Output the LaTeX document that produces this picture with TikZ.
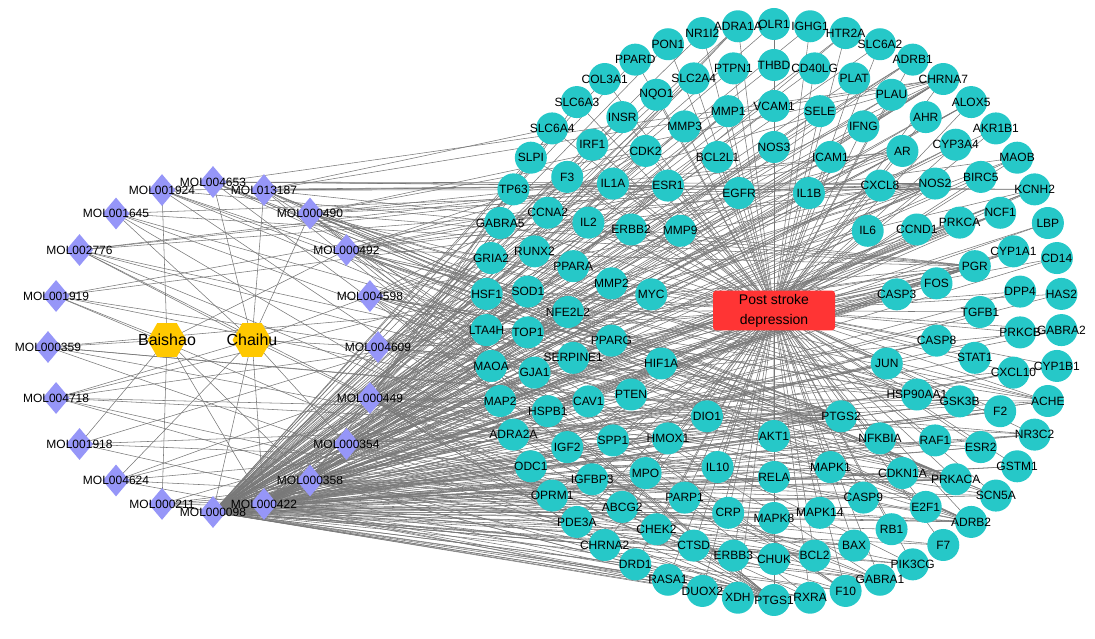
\documentclass[tikz,border=0pt]{standalone}
\usepackage{fontspec}
\setmainfont{Liberation Sans}
\usetikzlibrary{shapes.geometric,backgrounds}
\definecolor{tcol}{RGB}{38,200,200}
\definecolor{mcol}{RGB}{150,150,248}
\definecolor{hcol}{RGB}{255,200,0}
\definecolor{dcol}{RGB}{255,52,52}
\definecolor{ecol}{RGB}{120,120,120}
\def\ringA{OLR1,IGHG1,HTR2A,SLC6A2,ADRB1,CHRNA7,ALOX5,AKR1B1,MAOB,KCNH2,LBP,CD14,HAS2,GABRA2,CYP1B1,ACHE,NR3C2,GSTM1,SCN5A,ADRB2,F7,PIK3CG,GABRA1,F10,RXRA,PTGS1,XDH,DUOX2,RASA1,DRD1,CHRNA2,PDE3A,OPRM1,ODC1,ADRA2A,MAP2,MAOA,LTA4H,HSF1,GRIA2,GABRA5,TP63,SLPI,SLC6A4,SLC6A3,COL3A1,PPARD,PON1,NR1I2,ADRA1A}
\def\ringB{THBD,CD40LG,PLAT,PLAU,AHR,CYP3A4,BIRC5,NCF1,CYP1A1,DPP4,PRKCB,CXCL10,F2,ESR2,PRKACA,E2F1,RB1,BAX,BCL2,CHUK,ERBB3,CTSD,CHEK2,ABCG2,IGFBP3,IGF2,HSPB1,GJA1,TOP1,SOD1,RUNX2,CCNA2,F3,IRF1,INSR,NQO1,SLC2A4,PTPN1}
\def\ringC{VCAM1,SELE,IFNG,AR,NOS2,PRKCA,PGR,TGFB1,STAT1,GSK3B,RAF1,CDKN1A,CASP9,MAPK14,MAPK8,CRP,PARP1,MPO,SPP1,CAV1,SERPINE1,NFE2L2,PPARA,IL2,IL1A,CDK2,MMP3,MMP1}
\def\ringD{NOS3,ICAM1,CXCL8,CCND1,FOS,CASP8,HSP90AA1,NFKBIA,MAPK1,RELA,IL10,HMOX1,PTEN,PPARG,MMP2,ERBB2,ESR1,BCL2L1}
\def\ringE{EGFR,IL1B,IL6,CASP3,JUN,PTGS2,AKT1,DIO1,HIF1A,MYC,MMP9}
\def\molset{MOL004653,MOL013187,MOL000490,MOL000492,MOL004598,MOL004609,MOL000449,MOL000354,MOL000358,MOL000422,MOL000098,MOL000211,MOL004624,MOL001918,MOL004718,MOL000359,MOL001919,MOL002776,MOL001645,MOL001924}
\newcommand\molto[2]{\foreach \t in {#2}{\draw[edge] (#1.center) -- (\t.center);}}
\begin{document}
\begin{tikzpicture}[x=1pt,y=1pt,
  tgt/.style={circle,fill=tcol,minimum size=32pt,inner sep=0pt},
  mol/.style={diamond,fill=mcol,minimum width=27pt,minimum height=32pt,inner sep=0pt},
  herb/.style={regular polygon,regular polygon sides=6,fill=hcol,minimum size=39pt,inner sep=0pt},
  lbl/.style={font=\fontsize{12}{14}\selectfont,inner sep=0pt,text=black},
  hlbl/.style={font=\fontsize{16}{18}\selectfont,inner sep=0pt,text=black},
  edge/.style={draw=ecol,line width=0.55pt}]
\useasboundingbox (0,0) rectangle (1095,638);
\coordinate (C) at (774,326);
\coordinate (L) at (213,291);
% target rings
\foreach \n [count=\i from 0] in \ringA {\node[tgt] (\n) at ([shift={({90-7.2*\i}:288)}]C) {};}
\foreach \n [count=\i from 0] in \ringB {\node[tgt] (\n) at ([shift={({90-360/38*\i}:247)}]C) {};}
\foreach \n [count=\i from 0] in \ringC {\node[tgt] (\n) at ([shift={({90-360/28*\i}:206)}]C) {};}
\foreach \n [count=\i from 0] in \ringD {\node[tgt] (\n) at ([shift={({90-20*\i}:165)}]C) {};}
\foreach \n [count=\i from 0] in \ringE {\node[tgt] (\n) at ([shift={({106.36-360/11*\i}:124)}]C) {};}
% molecules
\foreach \n [count=\i from 0] in \molset {\node[mol] (\n) at ([shift={({90-18*\i}:165)}]L) {};}
% herbs
\node[herb] (Baishao) at (167,298) {};
\node[herb] (Chaihu) at (252,298) {};
% disease
\node[rectangle,rounded corners=3pt,fill=dcol,minimum width=122pt,minimum height=39pt,align=center,
  font=\fontsize{14}{20}\selectfont,text=black] (PSD) at (774,327.5) {Post stroke\\depression};
% labels
\foreach \n in \ringA {\node[lbl] at (\n) {\n};}
\foreach \n in \ringB {\node[lbl] at (\n) {\n};}
\foreach \n in \ringC {\node[lbl] at (\n) {\n};}
\foreach \n in \ringD {\node[lbl] at (\n) {\n};}
\foreach \n in \ringE {\node[lbl] at (\n) {\n};}
\foreach \n in \molset {\node[lbl] at (\n) {\n};}
\node[hlbl] at (Baishao) {Baishao};
\node[hlbl] at (Chaihu) {Chaihu};
% edges
\begin{pgfonlayer}{background}
\foreach \n in \ringA {\draw[edge] (PSD.center) -- (\n.center);}
\foreach \n in \ringB {\draw[edge] (PSD.center) -- (\n.center);}
\foreach \n in \ringC {\draw[edge] (PSD.center) -- (\n.center);}
\foreach \n in \ringD {\draw[edge] (PSD.center) -- (\n.center);}
\foreach \n in \ringE {\draw[edge] (PSD.center) -- (\n.center);}
\molto{Baishao}{MOL001918,MOL001919,MOL001924,MOL000211,MOL000359,MOL000358,MOL000422,MOL000492}
\molto{Chaihu}{MOL004653,MOL013187,MOL000490,MOL004598,MOL004609,MOL000449,MOL000354,MOL000098,MOL004624,MOL004718,MOL002776,MOL001645,MOL000422}
\foreach \t in \ringB {\draw[edge] (MOL000098.center) -- (\t.center);}
\foreach \t in \ringC {\draw[edge] (MOL000098.center) -- (\t.center);}
\foreach \t in \ringD {\draw[edge] (MOL000098.center) -- (\t.center);}
\foreach \t in \ringE {\draw[edge] (MOL000098.center) -- (\t.center);}
\molto{MOL000098}{OLR1,IGHG1,ADRB1,CHRNA7,ALOX5,AKR1B1,MAOB,KCNH2,LBP,CD14,HAS2,CYP1B1,ACHE,NR3C2,GSTM1,SCN5A,ADRB2,F7,PIK3CG,GABRA1,F10,RXRA,PTGS1,XDH,DUOX2,RASA1,DRD1,CHRNA2,PDE3A,OPRM1,ODC1,ADRA2A,MAP2,MAOA,LTA4H,HSF1,TP63,SLPI,COL3A1,PPARD,PON1,NR1I2,ADRA1A}
\molto{MOL000422}{NOS2,PTGS1,ESR1,AR,PPARG,PTGS2,ESR2,F10,PRKACA,PRKCA,PIK3CG,PGR,F2,ACHE,GSK3B,GABRA1,CHRNA7,RXRA,NCF1,KCNH2,AKT1,BCL2,BAX,CASP3,JUN,MAPK8,MAPK1,FOS,IL6,MMP1,MMP2,MMP3,MMP9,NFKBIA,CYP1A1,CYP3A4,HMOX1,ICAM1,VCAM1,SELE,CASP9,CASP8,CDKN1A,RELA,AHR,NOS3,IL1B,CXCL8,CCND1,HIF1A,MYC,TOP1,INSR,ALOX5,GSTM1,XDH,SLC2A4}
\molto{MOL000358}{PGR,PTGS1,PTGS2,ADRB2,SLC6A4,OPRM1,GABRA1,GABRA2,GABRA5,CHRNA7,CHRNA2,PRKACA,PRKCA,BCL2,BAX,CASP9,CASP8,CASP3,JUN,ADRA1A,ADRA2A,ADRB1,DRD1,HTR2A,PDE3A,SCN5A,NR3C2,KCNH2,F2,F7}
\molto{MOL000449}{PGR,NR3C2,PTGS1,PTGS2,ADRB2,SLC6A4,SLC6A3,SLC6A2,CHRNA7,GABRA1,GABRA2,GABRA5,GRIA2,OPRM1,PRKACA,PRKCA,RXRA,ADRA1A,ADRA2A,DRD1,HTR2A,PDE3A,SCN5A,ACHE,CHRNA2,MAOA,MAOB,PLAU,MAP2,ADRB1}
\molto{MOL000354}{PTGS1,PTGS2,PRKACA,NOS2,ESR1,AR,PPARG,GSK3B,F10,PIK3CG,CHRNA7,AKT1,MAPK14,BCL2,NCF1,ACHE,MMP1,MMP2,CASP3,ALOX5,CYP1A1,CYP1B1,PGR,HSP90AA1,CDK2}
\molto{MOL000492}{PTGS1,PTGS2,ESR1,PRKACA,ADRB2,PGR,NOS2,AR,PPARG,F10,GSK3B,HSP90AA1,CDK2,ACHE,CHRNA7,MAOB}
\molto{MOL004598}{PTGS1,PTGS2,ESR1,PRKACA,NOS2,AR,PPARG,GSK3B,F10,CDK2,HSP90AA1,PIK3CG,ACHE,SCN5A}
\molto{MOL004609}{PTGS1,PTGS2,ESR1,AR,PPARG,PRKACA,NOS2,GSK3B,CDK2,HSP90AA1,KCNH2,ADRB2,PGR,CHRNA7}
\molto{MOL013187}{SLC6A4,PTGS2,PTGS1,PRKACA,ESR1,ADRB2,GABRA1,CHRNA7,NOS2,PGR,KCNH2,SCN5A}
\molto{MOL000490}{PTGS1,PTGS2,ESR1,AR,PPARG,NOS2,PRKACA,GSK3B,F10,CDK2,ACHE,CHRNA7,HSP90AA1,PGR,RXRA}
\molto{MOL004653}{PTGS1,PTGS2,NOS2,PRKACA,ESR1,SCN5A,KCNH2,ADRB2}
\molto{MOL001924}{PTGS1,PTGS2,ESR1,PRKACA,CHRNA7,PGR,ADRB2}
\molto{MOL001645}{PTGS1,PGR,NOS2,PTGS2,ADRB2}
\molto{MOL002776}{PTGS2,PTGS1,GABRA1,NOS2,PRKACA,ESR1,AR}
\molto{MOL001919}{PTGS1,PTGS2,NOS2,ESR1,PRKACA}
\molto{MOL000359}{PGR,PTGS1,NR3C2,ADRB2,PTGS2}
\molto{MOL004718}{PTGS1,PTGS2,PGR,NOS2,GABRA1,ESR2}
\molto{MOL001918}{PTGS1,PTGS2,PRKACA,NOS2}
\molto{MOL004624}{PGR,PTGS1,PTGS2,NOS2,ADRB2}
\molto{MOL000211}{PGR,PTGS1,PTGS2,NR3C2,ADRB2,PRKACA,RXRA}
\end{pgfonlayer}
\end{tikzpicture}
\end{document}
